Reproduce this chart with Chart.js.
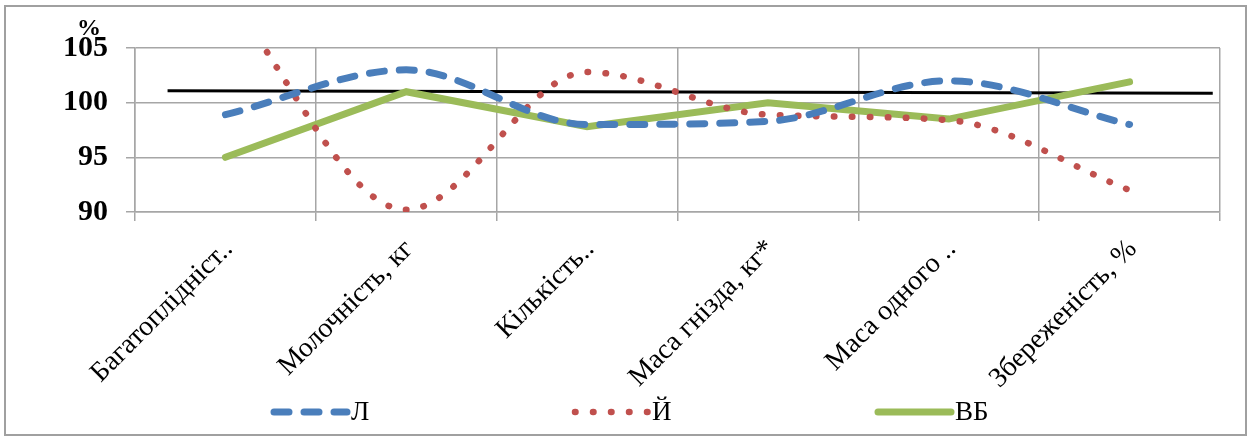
<!DOCTYPE html>
<html>
<head>
<meta charset="utf-8">
<script src="https://cdn.jsdelivr.net/npm/chart.js@4/dist/chart.umd.min.js"></script>
<style>
  body { margin: 0; background: #fff; }
  canvas { display: block; }
</style>
</head>
<body>
<canvas id="myChart" width="1253" height="438"></canvas>
<script>
// Données du graphique
const categories = ["Багатоплідніст..", "Молочність, кг", "Кількість..", "Маса гнізда, кг*", "Маса одного ..", "Збереженість, %"];
const serieL = [98.9, 103.0, 98.0, 98.3, 102.0, 98.0];
const serieY = [110.0, 90.2, 102.8, 98.9, 98.4, 92.0];
const serieVB = [95.0, 101.0, 97.8, 100.0, 98.5, 101.9];
// ligne noire de référence (position en unités de catégorie)
const ligneX = [0.18, 5.96];
const ligneY = [101.1, 100.85];
const yTicks = [90, 95, 100, 105];
const legendLabels = ["Л", "Й", "ВБ"];
const unite = "%";

const gridColor = "#a6a6a6";
const serif = "'Liberation Serif', 'Times New Roman', serif";

// Cadre extérieur + légende + symbole %
const decorPlugin = {
  id: "decor",
  beforeDraw(chart) {
    const c = chart.ctx;
    c.save();
    c.fillStyle = "#fff";
    c.fillRect(0, 0, chart.width, chart.height);
    c.strokeStyle = "#a0a0a0";
    c.lineWidth = 2;
    c.strokeRect(5, 6, 1241, 429);
    c.restore();
  },
  afterDraw(chart) {
    const c = chart.ctx;
    c.save();
    // symbole d'unité au-dessus de l'axe
    c.font = "bold 24px " + serif;
    c.fillStyle = "#000";
    c.textAlign = "center";
    c.textBaseline = "middle";
    c.fillText(unite, 89, 29);

    // légende
    const starts = [274, 575, 878];
    const y = 412;
    legendLabels.forEach((lab, i) => {
      const ds = chart.data.datasets[i];
      c.beginPath();
      c.strokeStyle = ds.borderColor;
      c.lineWidth = ds.borderWidth;
      c.lineCap = ds.borderCapStyle || "butt";
      c.setLineDash(ds.borderDash || []);
      c.moveTo(starts[i], y);
      c.lineTo(starts[i] + 73, y);
      c.stroke();
      c.setLineDash([]);
      c.font = "27px " + serif;
      c.fillStyle = "#000";
      c.textAlign = "left";
      c.textBaseline = "middle";
      c.fillText(lab, starts[i] + 77, y + 1);
    });
    c.restore();
  }
};

const ctx = document.getElementById("myChart");
let varChart = new Chart(ctx, {
  type: "line",
  data: {
    labels: categories,
    datasets: [
      {
        label: legendLabels[0],
        data: serieL,
        borderColor: "#4a7ebb",
        borderWidth: 7,
        borderDash: [15, 15],
        borderCapStyle: "round",
        cubicInterpolationMode: "monotone",
        pointRadius: 0
      },
      {
        label: legendLabels[1],
        data: serieY,
        borderColor: "#c0504d",
        borderWidth: 6.5,
        borderDash: [0.5, 17.5],
        borderCapStyle: "round",
        cubicInterpolationMode: "monotone",
        pointRadius: 0
      },
      {
        label: legendLabels[2],
        data: serieVB,
        borderColor: "#9bbb59",
        borderWidth: 7,
        borderCapStyle: "round",
        tension: 0,
        pointRadius: 0
      },
      {
        label: "ref",
        data: ligneX.map((x, i) => ({ x: x, y: ligneY[i] })),
        xAxisID: "xRef",
        borderColor: "#000",
        borderWidth: 3,
        tension: 0,
        pointRadius: 0
      }
    ]
  },
  options: {
    responsive: false,
    animation: false,
    layout: { padding: { top: 48, right: 33, left: 0, bottom: 0 } },
    plugins: {
      legend: { display: false },
      tooltip: { enabled: false }
    },
    scales: {
      x: {
        type: "category",
        offset: true,
        grid: { offset: true, color: gridColor, lineWidth: 1.5, tickLength: 9 },
        border: { color: gridColor, width: 1.5 },
        ticks: {
          autoSkip: false,
          maxRotation: 45,
          minRotation: 45,
          color: "#000",
          padding: 12,
          labelOffset: 3,
          font: { family: serif, size: 28 }
        },
        afterFit(scale) { scale.height = 226; }
      },
      xRef: {
        type: "linear",
        display: false,
        min: 0,
        max: 6
      },
      y: {
        min: 90,
        max: 105,
        afterBuildTicks(scale) { scale.ticks = yTicks.map(v => ({ value: v })); },
        grid: { color: gridColor, lineWidth: 1.5, tickLength: 9 },
        border: { color: gridColor, width: 1.5 },
        ticks: {
          color: "#000",
          padding: 18,
          font: { family: serif, size: 30, weight: "bold" }
        },
        afterFit(scale) { scale.width = 135; }
      }
    }
  },
  plugins: [decorPlugin]
});
</script>
</body>
</html>
